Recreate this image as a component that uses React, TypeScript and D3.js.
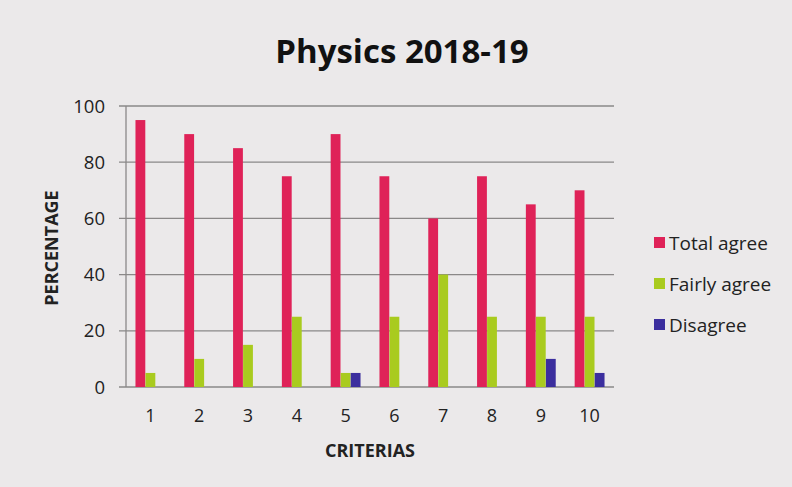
import React from "react";
import * as d3 from "d3";

const categories = ["1", "2", "3", "4", "5", "6", "7", "8", "9", "10"];
const totalAgree = [95, 90, 85, 75, 90, 75, 60, 75, 65, 70];
const fairlyAgree = [5, 10, 15, 25, 5, 25, 40, 25, 25, 25];
const disagree = [0, 0, 0, 0, 5, 0, 0, 0, 10, 5];
const seriesNames = ["Total agree", "Fairly agree", "Disagree"];
const seriesColors = ["#df2258", "#a9cb1f", "#3b2e9e"];
const yTicks = [0, 20, 40, 60, 80, 100];

export default function App() {
  const W = 792, H = 487;
  const left = 126, right = 614, top = 106, bottom = 387;
  const series = [totalAgree, fairlyAgree, disagree];
  const x = d3.scaleBand<string>().domain(categories).range([left, right]).paddingInner(0.38).paddingOuter(0.19);
  const xs = d3.scaleBand<number>().domain([0, 1, 2]).range([0, x.bandwidth()]).padding(0.02);
  const y = d3.scaleLinear().domain([0, 100]).range([bottom, top]);
  const font = "'Open Sans', Lato, sans-serif";
  return (
    <svg width={W} height={H} style={{ position: "absolute", left: 0, top: 0 }} fontFamily={font}>
      <rect x={0} y={0} width={W} height={H} fill="#ebe9ea" />
      <text x={402} y={63} textAnchor="middle" fontSize={33} fontWeight="bold" fill="#111">Physics 2018-19</text>
      {yTicks.map((t) => (
        <g key={t}>
          <line x1={119} x2={right} y1={y(t)} y2={y(t)} stroke="#8a8888" strokeWidth={1.3} />
          <text x={105} y={y(t) + 6.5} textAnchor="end" fontSize={18.5} fill="#222">{t}</text>
        </g>
      ))}
      <line x1={left} x2={left} y1={top} y2={bottom} stroke="#8a8888" strokeWidth={1.3} />
      {series.map((vals, si) =>
        vals.map((v, i) =>
          v > 0 ? (
            <rect key={si + "-" + i} x={(x(categories[i]) as number) + (xs(si) as number)} y={y(v)} width={xs.bandwidth()} height={bottom - y(v)} fill={seriesColors[si]} />
          ) : null
        )
      )}
      {categories.map((c) => (
        <text key={c} x={(x(c) as number) + x.bandwidth() / 2} y={422} textAnchor="middle" fontSize={18} fill="#222">{c}</text>
      ))}
      <text x={370} y={457} textAnchor="middle" fontSize={18} fontWeight="bold" fill="#222">CRITERIAS</text>
      <text transform="translate(58,248) rotate(-90)" textAnchor="middle" fontSize={18} fontWeight="bold" fill="#222">PERCENTAGE</text>
      {seriesNames.map((n, i) => (
        <g key={n}>
          <rect x={654} y={237 + i * 41} width={11} height={11} fill={seriesColors[i]} />
          <text x={669} y={249.5 + i * 41} fontSize={19} fill="#222">{n}</text>
        </g>
      ))}
    </svg>
  );
}
